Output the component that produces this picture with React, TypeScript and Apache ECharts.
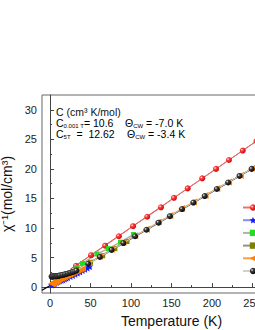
import React, { useEffect, useRef } from "react";
import * as echarts from "echarts";

// ---------- data ----------
const legendNames = ["0.001 T", "0.1 T", "0.5 T", "1 T", "2 T", "5 T"];

const redT = [32, 50.6, 68, 85, 102.5, 120, 137, 153, 170, 188, 205, 221, 238, 255, 272, 289, 306];
const redChi = [3.6, 5.4, 7.0, 8.6, 10.3, 11.9, 13.5, 15.1, 16.7, 18.4, 20.0, 21.5, 23.1, 24.7, 26.3, 27.9, 29.5];

const blueT = [2, 3, 4, 5, 6, 8, 10, 12, 14, 16, 18, 20, 22, 25, 28, 31, 34, 37, 40, 43, 46, 49];
const blueChi = [0.35, 0.42, 0.5, 0.57, 0.64, 0.78, 0.9, 1.02, 1.14, 1.26, 1.38, 1.5, 1.62, 1.8, 1.98, 2.17, 2.37, 2.58, 2.8, 3.02, 3.25, 3.5];

const greenT = [33, 40, 58, 72, 87, 103];
const greenChi = [3.3, 4.0, 5.6, 6.5, 7.6, 8.9];

const oliveT = [35, 50, 65, 80, 95];
const oliveChi = [3.0, 4.2, 5.3, 6.5, 7.7];

const orangeT = [1.8, 2.5, 3, 3.5, 4, 5, 6, 7, 8, 9, 10, 12, 14, 16, 18, 20, 22, 24, 26, 28, 30, 32, 34, 36, 38, 40,
  47, 61, 75.5, 90, 104.5, 119, 133.5, 148, 162.5, 177, 191.5, 206, 220.5, 235, 249.5, 264, 278, 293, 307];
const orangeChi = [0.55, 0.62, 0.67, 0.72, 0.77, 0.85, 0.93, 1.0, 1.08, 1.15, 1.22, 1.36, 1.5, 1.63, 1.77, 1.9, 2.04, 2.18, 2.32, 2.46, 2.6, 2.72, 2.85, 2.98, 3.1, 3.25,
  4.05, 5.2, 6.4, 7.55, 8.7, 9.8, 11.0, 12.1, 13.3, 14.4, 15.5, 16.7, 17.8, 18.9, 20.1, 21.2, 22.4, 23.5, 24.6];

const blackT = [1.8, 2.5, 3, 4, 5, 6, 7, 8, 9, 10, 11, 12, 14, 16, 18, 20, 22, 24, 26, 28, 30, 32.5,
  47, 61.5, 76, 90.5, 105, 119, 134, 148, 163, 177, 191, 206, 220, 234, 249, 263, 278, 292, 306];
const blackChi = [1.78, 1.79, 1.8, 1.81, 1.82, 1.83, 1.84, 1.86, 1.88, 1.9, 1.93, 1.96, 2.02, 2.08, 2.15, 2.22, 2.3, 2.38, 2.47, 2.56, 2.66, 2.8,
  3.95, 5.1, 6.3, 7.45, 8.6, 9.7, 10.9, 12.0, 13.2, 14.3, 15.4, 16.6, 17.7, 18.8, 20.0, 21.1, 22.3, 23.4, 24.5];

// Curie-Weiss fit lines (end points)
const redFitT = [25, 310];
const redFitChi = [3.02, 29.9];
const blackFitT = [-10, 310];
const blackFitChi = [-0.52, 24.83];

const xMajor = [0, 50, 100, 150, 200, 250, 300];
const xMinor = [25, 75, 125, 175, 225, 275];
const yMajor = [0, 5, 10, 15, 20, 25, 30];
const yMinor = [2.5, 7.5, 12.5, 17.5, 22.5, 27.5];

const zip = (a: number[], b: number[]) => a.map((v, i) => [v, b[i]]);

const FONT = "Liberation Sans, Arial, sans-serif";

const sphere = (c1: string, c2: string) =>
  new echarts.graphic.RadialGradient(0.35, 0.35, 0.7, [
    { offset: 0, color: "#ffffff" },
    { offset: 0.3, color: c1 },
    { offset: 1, color: c2 },
  ]);

export default function App() {
  const ref = useRef<HTMLDivElement>(null);
  useEffect(() => {
    if (!ref.current) return;
    const chart = echarts.init(ref.current, undefined, { renderer: "svg" });
    const axisColor = "#444";
    const xBase = {
      type: "value" as const,
      min: -10,
      max: 310,
      gridIndex: 0,
      position: "bottom" as const,
      splitLine: { show: false },
    };
    const yBase = {
      type: "value" as const,
      min: -1,
      max: 32.5,
      gridIndex: 0,
      position: "left" as const,
      splitLine: { show: false },
    };
    const rich = {
      a: { fontSize: 10.5, fontFamily: FONT, color: "#111" },
      s: { fontSize: 6, fontFamily: FONT, color: "#111", padding: [6, 0, 0, 0] },
    };
    chart.setOption({
      animation: false,
      backgroundColor: "#fff",
      grid: {
        left: 42, top: 95, width: 259, height: 198,
        containLabel: false, outerBoundsMode: "none",
        show: true, borderColor: "#666", borderWidth: 1, backgroundColor: "transparent",
      },
      xAxis: [
        {
          ...xBase,
          axisLine: { show: true, lineStyle: { color: axisColor, width: 1 } },
          axisTick: { show: true, inside: true, length: 4, customValues: xMajor, lineStyle: { color: axisColor } },
          axisLabel: { show: true, customValues: xMajor, fontSize: 11, margin: 4, color: "#222", fontFamily: FONT },
          name: "Temperature (K)",
          nameLocation: "middle",
          nameGap: 21,
          nameTextStyle: { fontSize: 14, color: "#111", fontFamily: FONT },
        },
        {
          ...xBase,
          axisLine: { show: false },
          axisTick: { show: true, inside: true, length: 2, customValues: xMinor, lineStyle: { color: axisColor } },
          axisLabel: { show: false },
        },
      ],
      yAxis: [
        {
          ...yBase,
          axisLine: { show: true, lineStyle: { color: axisColor, width: 1 } },
          axisTick: { show: true, inside: true, length: 4, customValues: yMajor, lineStyle: { color: axisColor } },
          axisLabel: { show: true, customValues: yMajor, fontSize: 11, margin: 5, color: "#222", fontFamily: FONT },
          name: "χ⁻¹(mol/cm³)",
          nameLocation: "middle",
          nameGap: 19,
          nameTextStyle: { fontSize: 14, color: "#111", fontFamily: FONT },
        },
        {
          ...yBase,
          axisLine: { show: false },
          axisTick: { show: true, inside: true, length: 2, customValues: yMinor, lineStyle: { color: axisColor } },
          axisLabel: { show: false },
        },
      ],
      legend: {
        orient: "vertical",
        left: 237,
        top: 198,
        data: legendNames,
        itemWidth: 20,
        itemHeight: 8,
        itemGap: 3.7,
        textStyle: { fontSize: 9, lineHeight: 8, color: "#222", fontFamily: FONT, padding: [0, 0, 0, 12] },
      },
      graphic: [
        {
          type: "text",
          left: 56,
          top: 106,
          style: { text: "C (cm³ K/mol)", fontSize: 10.5, fontFamily: FONT, fill: "#111" },
        },
        { type: "text", left: 56, top: 117, style: { text: "{a|C}{s|0.001 T}{a|= 10.6}", rich } },
        { type: "text", left: 125, top: 117, style: { text: "{a|Θ}{s|CW}{a| = -7.0 K}", rich } },
        { type: "text", left: 56, top: 128, style: { text: "{a|C}{s|5T}{a|  =  12.62}", rich } },
        { type: "text", left: 127, top: 128, style: { text: "{a|Θ}{s|CW}{a| = -3.4 K}", rich } },
      ],
      series: [
        {
          name: "redFit",
          type: "line",
          data: zip(redFitT, redFitChi),
          symbol: "none",
          lineStyle: { color: "#b83a3a", width: 1 },
          z: 1,
        },
        {
          name: "blackFit",
          type: "line",
          data: zip(blackFitT, blackFitChi),
          symbol: "none",
          lineStyle: { color: "#000", width: 1.2 },
          z: 1,
        },
        {
          name: legendNames[0],
          type: "line",
          data: zip(redT, redChi),
          symbol: "circle",
          symbolSize: 6,
          itemStyle: { color: sphere("#ff4040", "#cc0000"), borderWidth: 0 },
          lineStyle: { color: "#f07070", width: 1 },
          z: 3,
        },
        {
          name: legendNames[1],
          type: "line",
          data: zip(blueT, blueChi),
          symbol: "path://M0,-10L2.9,-4L9.5,-3.1L4.8,1.5L5.9,8.1L0,5L-5.9,8.1L-4.8,1.5L-9.5,-3.1L-2.9,-4Z",
          symbolSize: 7,
          itemStyle: { color: "#1a1aff" },
          lineStyle: { color: "#8888ff", width: 1 },
          z: 3,
        },
        {
          name: legendNames[2],
          type: "line",
          data: zip(greenT, greenChi),
          symbol: "rect",
          symbolSize: 5,
          itemStyle: { color: "#22dd22" },
          lineStyle: { color: "#b0b0b0", width: 1.5 },
          z: 3,
        },
        {
          name: legendNames[3],
          type: "line",
          data: zip(oliveT, oliveChi),
          symbol: "rect",
          symbolSize: 5,
          itemStyle: { color: "#808000" },
          lineStyle: { color: "#909090", width: 1 },
          z: 3,
        },
        {
          name: legendNames[4],
          type: "line",
          data: zip(orangeT, orangeChi),
          symbol: "triangle",
          symbolRotate: 90,
          symbolSize: 7,
          itemStyle: { color: "#ff8000" },
          lineStyle: { color: "#ffa040", width: 1 },
          z: 3,
        },
        {
          name: legendNames[5],
          type: "line",
          data: zip(blackT, blackChi),
          symbol: "circle",
          symbolSize: 6,
          itemStyle: { color: sphere("#404040", "#000000"), borderWidth: 0 },
          lineStyle: { color: "#d0d0d0", width: 1 },
          z: 4,
        },
      ],
    });
    return () => chart.dispose();
  }, []);
  return (
    <div style={{ position: "fixed", left: 0, top: 0, width: 255, height: 330, overflow: "hidden", background: "#fff" }}>
      <div ref={ref} style={{ width: 330, height: 330 }} />
    </div>
  );
}
